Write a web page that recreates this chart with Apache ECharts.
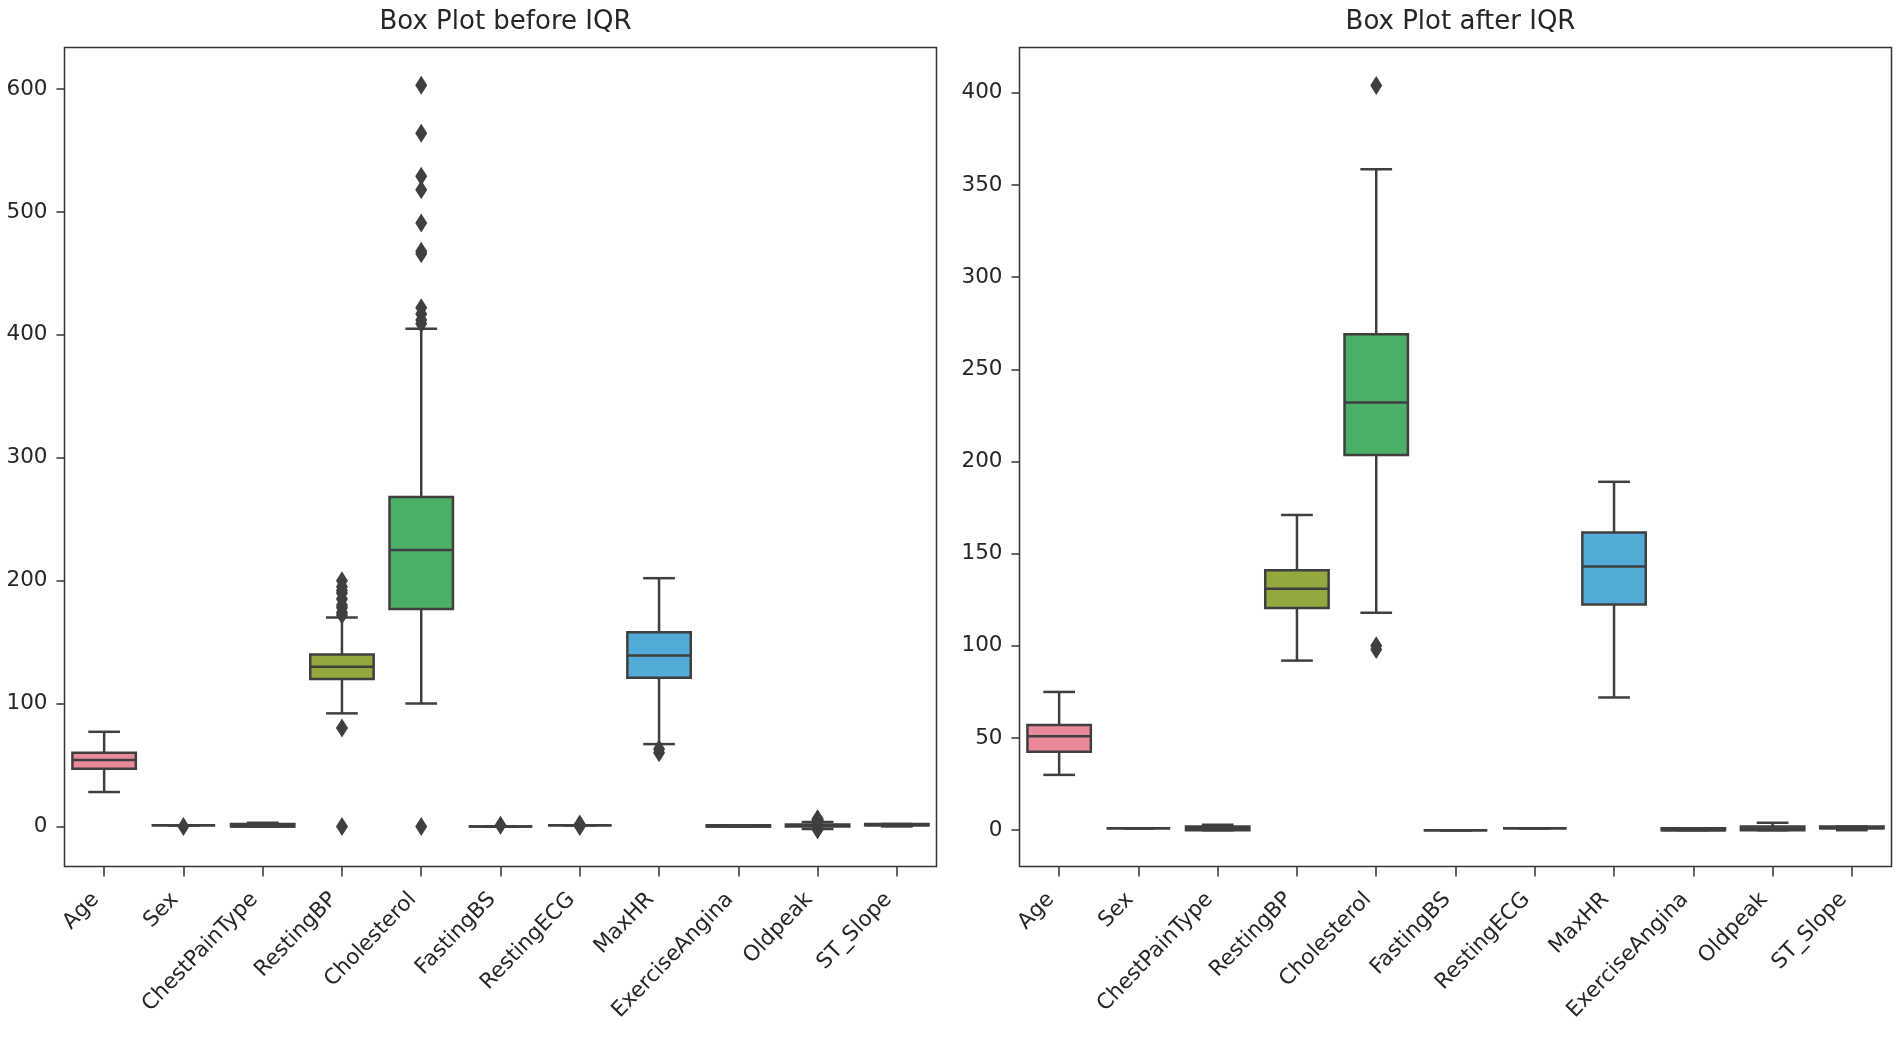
<!DOCTYPE html>
<html>
<head>
<meta charset="utf-8">
<script src="https://cdn.jsdelivr.net/npm/echarts@6/dist/echarts.min.js"></script>
<style>
html,body{margin:0;padding:0;background:#fff;}
#chart{width:1902px;height:1043px;}
</style>
</head>
<body>
<div id="chart"></div>
<script>
// ---------- data ----------
var categories = ['Age','Sex','ChestPainType','RestingBP','Cholesterol','FastingBS','RestingECG','MaxHR','ExerciseAngina','Oldpeak','ST_Slope'];
var boxColors = ['#e98a9b','#d8944f','#b0a04c','#93a83e','#4caf66','#4aaa9b','#4ea7b5','#52abd6','#9a93e6','#c184e6','#e47cc6'];

// [min whisker, Q1, median, Q3, max whisker] per category
var beforeStats = [
  [28, 47, 54, 60, 77],
  [1, 1, 1, 1, 1],
  [0, 0, 0, 2, 3],
  [92, 120, 130, 140, 170],
  [100, 177, 225, 268, 405],
  [0, 0, 0, 0, 0],
  [1, 1, 1, 1, 1],
  [67, 121, 139, 158, 202],
  [0, 0, 0, 1, 1],
  [-2, 0, 0.6, 1.5, 3.7],
  [0, 1, 1, 2, 2]
];
// outliers: [category index, value]
var beforeOutliers = [
  [1, 0],
  [3, 0], [3, 80], [3, 172], [3, 174], [3, 178], [3, 180], [3, 185], [3, 190], [3, 192], [3, 195], [3, 200],
  [4, 0], [4, 409], [4, 412], [4, 417], [4, 422], [4, 466], [4, 468], [4, 491], [4, 518], [4, 529], [4, 564], [4, 603],
  [5, 1],
  [6, 0], [6, 2],
  [7, 60], [7, 63],
  [9, -2.6], [9, -2.2], [9, 4], [9, 4.2], [9, 4.4], [9, 5], [9, 5.6], [9, 6.2]
];

var afterStats = [
  [30, 42.5, 51, 57, 75],
  [1, 1, 1, 1, 1],
  [0, 0, 1, 2, 3],
  [92, 120.5, 131, 141, 171],
  [118, 203.5, 232, 269, 358.5],
  [0, 0, 0, 0, 0],
  [1, 1, 1, 1, 1],
  [72, 122.5, 143, 161.5, 189],
  [0, 0, 0, 1, 1],
  [0, 0, 0.8, 2, 4],
  [0, 1, 1, 2, 2]
];
var afterOutliers = [
  [4, 98], [4, 100], [4, 404]
];

var beforeTicks = [0, 100, 200, 300, 400, 500, 600];
var afterTicks = [0, 50, 100, 150, 200, 250, 300, 350, 400];
var beforeRange = [-32.6, 633.8];
var afterRange = [-19.7, 424.6];
var titles = ['Box Plot before IQR', 'Box Plot after IQR'];

// ---------- chart ----------
var FONT = 'DejaVu Sans';
var LINE = '#3f3f3f';
var TXT = '#262626';

function boxData(stats) {
  return stats.map(function (s, i) { return [i].concat(s); });
}

function renderBox(params, api) {
  var idx = api.value(0);
  var vmin = api.value(1), q1 = api.value(2), med = api.value(3), q3 = api.value(4), vmax = api.value(5);
  var band = api.size([1, 0])[0];
  var bw = band * 0.8;
  var cw = bw / 2;
  var pMin = api.coord([idx, vmin]);
  var pQ1 = api.coord([idx, q1]);
  var pMed = api.coord([idx, med]);
  var pQ3 = api.coord([idx, q3]);
  var pMax = api.coord([idx, vmax]);
  var cx = pMed[0];
  var lw = 2.5;
  var ls = { stroke: LINE, lineWidth: lw, fill: null };
  return {
    type: 'group',
    children: [
      { type: 'line', shape: { x1: cx, y1: pQ1[1], x2: cx, y2: pMin[1] }, style: ls },
      { type: 'line', shape: { x1: cx, y1: pQ3[1], x2: cx, y2: pMax[1] }, style: ls },
      { type: 'line', shape: { x1: cx - cw / 2, y1: pMin[1], x2: cx + cw / 2, y2: pMin[1] }, style: ls },
      { type: 'line', shape: { x1: cx - cw / 2, y1: pMax[1], x2: cx + cw / 2, y2: pMax[1] }, style: ls },
      { type: 'rect', shape: { x: cx - bw / 2, y: pQ3[1], width: bw, height: pQ1[1] - pQ3[1] },
        style: { fill: boxColors[idx], stroke: LINE, lineWidth: lw } },
      { type: 'line', shape: { x1: cx - bw / 2, y1: pMed[1], x2: cx + bw / 2, y2: pMed[1] }, style: ls }
    ]
  };
}

var grids = [
  { left: 64.5, top: 47.5, width: 872, height: 819 },
  { left: 1019.5, top: 47.5, width: 872, height: 819 }
];

function xAxis(gi) {
  return {
    type: 'category', gridIndex: gi, data: categories, boundaryGap: true, position: 'bottom',
    axisLine: { show: false, onZero: false },
    axisTick: { show: true, alignWithLabel: true, length: 10, lineStyle: { color: '#333', width: 1.5 } },
    axisLabel: { rotate: 46, interval: 0, margin: 21, padding: [0, 12, 0, 0],
      fontFamily: FONT, fontSize: 21.5, color: TXT },
    splitLine: { show: false }
  };
}
function yAxis(gi, range, ticks) {
  return {
    type: 'value', gridIndex: gi, min: range[0], max: range[1],
    axisLine: { show: false, onZero: false },
    axisTick: { show: true, length: 8, customValues: ticks, lineStyle: { color: '#333', width: 1.5 } },
    axisLabel: { customValues: ticks, margin: 17, fontFamily: FONT, fontSize: 21.5, color: TXT },
    splitLine: { show: false }
  };
}

var diamond = 'path://M0,-10 L6,0 L0,10 L-6,0 Z';

var option = {
  backgroundColor: '#ffffff',
  animation: false,
  title: [
    { text: titles[0], left: 500.5, top: 4, textAlign: 'center',
      textStyle: { fontFamily: FONT, fontSize: 26, fontWeight: 'normal', color: TXT } },
    { text: titles[1], left: 1455.5, top: 4, textAlign: 'center',
      textStyle: { fontFamily: FONT, fontSize: 26, fontWeight: 'normal', color: TXT } }
  ],
  grid: grids.map(function (g) {
    return Object.assign({ show: true, borderColor: '#333', borderWidth: 1.5, backgroundColor: 'transparent' }, g);
  }),
  xAxis: [xAxis(0), xAxis(1)],
  yAxis: [yAxis(0, beforeRange, beforeTicks), yAxis(1, afterRange, afterTicks)],
  series: [
    { type: 'custom', xAxisIndex: 0, yAxisIndex: 0, data: boxData(beforeStats),
      encode: { x: 0, y: [1, 2, 3, 4, 5] }, renderItem: renderBox, z: 2 },
    { type: 'scatter', xAxisIndex: 0, yAxisIndex: 0, data: beforeOutliers,
      symbol: diamond, symbolSize: [12, 19], itemStyle: { color: LINE, opacity: 1 }, z: 3 },
    { type: 'custom', xAxisIndex: 1, yAxisIndex: 1, data: boxData(afterStats),
      encode: { x: 0, y: [1, 2, 3, 4, 5] }, renderItem: renderBox, z: 2 },
    { type: 'scatter', xAxisIndex: 1, yAxisIndex: 1, data: afterOutliers,
      symbol: diamond, symbolSize: [12, 19], itemStyle: { color: LINE, opacity: 1 }, z: 3 }
  ]
};

var chart = echarts.init(document.getElementById('chart'), null, { renderer: 'canvas' });
chart.setOption(option);
</script>
</body>
</html>
